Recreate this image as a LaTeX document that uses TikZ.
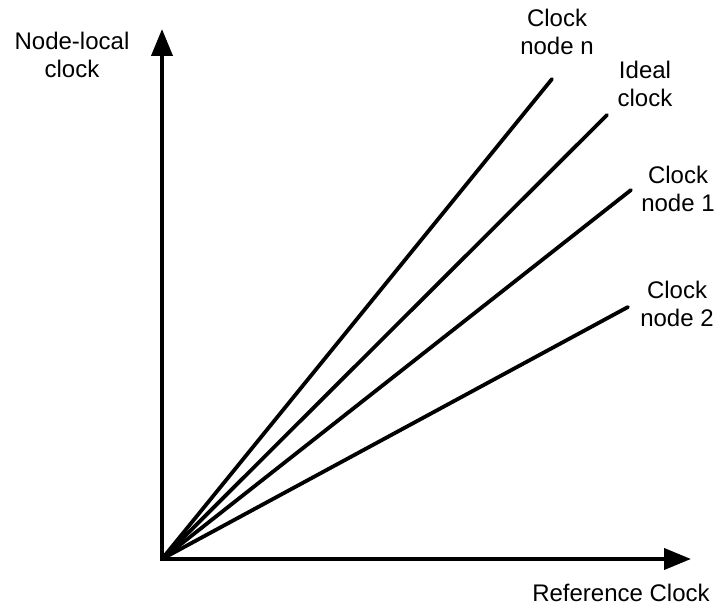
\documentclass[tikz,border=0pt]{standalone}
\usepackage{fontspec}
\setmainfont{Liberation Sans}
\usetikzlibrary{arrows.meta}
\begin{document}
\begin{tikzpicture}[x=1pt,y=1pt,
  axis/.style={line width=4pt,{Triangle[length=27pt,width=21pt]}-{Triangle[length=27pt,width=21pt]}},
  clockline/.style={line width=3.8pt,line cap=round},
  lbl/.style={font=\fontsize{24}{28}\selectfont,align=center,anchor=base,inner sep=0pt}]
\useasboundingbox (0,0) rectangle (717,605);
% axes
\coordinate (o) at (162,46);
\coordinate (ytip) at (162,576);
\coordinate (xtip) at (691,46);
\draw[axis] (ytip) -- (o) -- (xtip);
% clock lines
\coordinate (endn) at (552,526);
\coordinate (endideal) at (607,490);
\coordinate (endone) at (631,415);
\coordinate (endtwo) at (628,298);
\draw[clockline] (o) -- (endn);
\draw[clockline] (o) -- (endideal);
\draw[clockline] (o) -- (endone);
\draw[clockline] (o) -- (endtwo);
% labels (anchored at the baseline of the last line)
\node[lbl] (ly) at (72,527) {Node-local\\clock};
\node[lbl] (lx) at (621,4) {Reference Clock};
\node[lbl] (ln) at (557,550) {Clock\\node n};
\node[lbl] (lideal) at (645,498) {Ideal\\clock};
\node[lbl] (lone) at (678,393) {Clock\\node 1};
\node[lbl] (ltwo) at (677,278) {Clock\\node 2};
\end{tikzpicture}
\end{document}
